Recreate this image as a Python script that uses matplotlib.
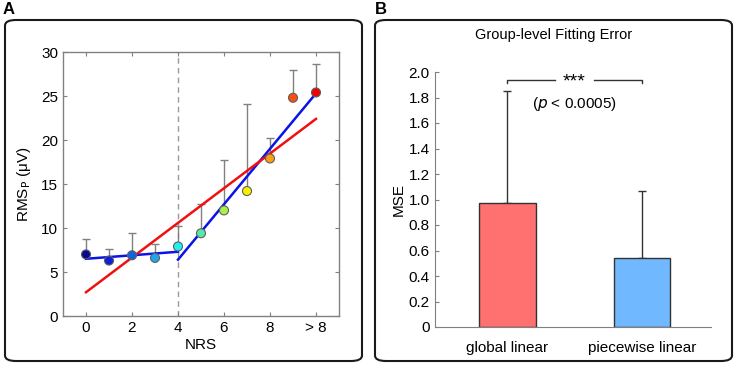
import matplotlib.pyplot as plt
from matplotlib.patches import FancyBboxPatch

# panel A data
nrs = [0, 1, 2, 3, 4, 5, 6, 7, 8, 9, 10]
rms_mean = [7.0, 6.3, 6.9, 6.6, 7.9, 9.4, 12.0, 14.2, 17.9, 24.8, 25.4]
rms_err = [1.8, 1.3, 2.5, 1.6, 2.3, 3.3, 5.7, 9.9, 2.3, 3.2, 3.2]
xtick_pos = [0, 2, 4, 6, 8, 10]
xtick_labels = ['0', '2', '4', '6', '8', '> 8']

# fitted lines (endpoints)
piece1_x = [0, 4]
piece1_y = [6.5, 7.3]
piece2_x = [4, 10]
piece2_y = [6.4, 25.3]
global_x = [0, 10]
global_y = [2.7, 22.4]

# panel B data
models = ['global linear', 'piecewise linear']
mse_mean = [0.97, 0.54]
mse_err = [0.88, 0.53]

dot_colors = ['#0a0a8c', '#0f1fd8', '#1064e0', '#22a6ea', '#22eef4', '#55e8a8',
              '#a8f04a', '#f8f000', '#f8a010', '#f85010', '#f00000']
gray = '#808080'

plt.rcParams['font.family'] = 'Liberation Sans'

fig = plt.figure(figsize=(7.37, 3.65), dpi=100)

# panel frames
for x0 in [5 / 737, 375 / 737]:
    box = FancyBboxPatch((x0, 4 / 365), 357 / 737, 341 / 365,
                         boxstyle='round,pad=0,rounding_size=0.015',
                         transform=fig.transFigure, fill=False,
                         edgecolor='#1a1a1a', linewidth=1.5)
    fig.patches.append(box)
fig.text(3 / 737, 1 - 10 / 365, 'A', fontsize=12, fontweight='bold', va='center')
fig.text(375 / 737, 1 - 10 / 365, 'B', fontsize=12, fontweight='bold', va='center')

# ---- panel A ----
ax = fig.add_axes([63 / 737, 1 - 316 / 365, 276 / 737, 264 / 365])
ax.axvline(4, color='#999999', linestyle='--', linewidth=1, dashes=(4, 3), zorder=1)
ax.errorbar(nrs, rms_mean, yerr=[[0] * len(rms_err), rms_err], fmt='none',
            ecolor=gray, elinewidth=1, capsize=3, capthick=1, zorder=2)
ax.plot(piece1_x, piece1_y, color='#0a14e6', linewidth=1.8, zorder=3)
ax.plot(piece2_x, piece2_y, color='#0a14e6', linewidth=1.8, zorder=3)
ax.plot(global_x, global_y, color='#f01010', linewidth=1.8, zorder=3)
ax.scatter(nrs, rms_mean, s=42, c=dot_colors, edgecolors='#606060',
           linewidths=0.8, zorder=4)
ax.set_xlim(-1, 11)
ax.set_ylim(0, 30)
ax.set_xticks(xtick_pos)
ax.set_xticklabels(xtick_labels)
ax.set_yticks(range(0, 31, 5))
ax.tick_params(direction='in', length=3, color=gray, labelsize=11,
               top=True, right=True, width=0.8)
for s in ax.spines.values():
    s.set_color(gray)
    s.set_linewidth(1)
ax.set_xlabel('NRS', fontsize=11, labelpad=2)
ax.set_ylabel('RMS$_\\mathrm{P}$ (\u03bcV)', fontsize=11, labelpad=6)

# ---- panel B ----
bx = fig.add_axes([434.7 / 737, 1 - 327 / 365, 276 / 737, 255 / 365])
xb = [0, 1]
bx.bar(xb, mse_mean, width=0.42, color=['#ff7070', '#70b8ff'],
       edgecolor='#333333', linewidth=1, zorder=2)
bx.errorbar(xb, mse_mean, yerr=[[0, 0], mse_err], fmt='none', ecolor='#333333',
            elinewidth=1, capsize=3, capthick=1, zorder=1)
bx.set_xlim(-0.54, 1.51)
bx.set_ylim(0, 2.0)
bx.set_yticks([0, 0.2, 0.4, 0.6, 0.8, 1.0, 1.2, 1.4, 1.6, 1.8, 2.0])
bx.set_yticklabels(['0', '0.2', '0.4', '0.6', '0.8', '1.0', '1.2', '1.4',
                    '1.6', '1.8', '2.0'])
bx.set_xticks(xb)
bx.set_xticklabels(models)
bx.tick_params(axis='y', direction='in', length=3, color=gray, labelsize=11)
bx.tick_params(axis='x', length=0, labelsize=11, pad=10)
bx.spines['top'].set_visible(False)
bx.spines['right'].set_visible(False)
for s in ['left', 'bottom']:
    bx.spines[s].set_color(gray)
bx.set_ylabel('MSE', fontsize=11, labelpad=2)

# significance bracket
bx.plot([0, 0, 0.35], [1.915, 1.94, 1.94], color='#333333', linewidth=1, clip_on=False)
bx.plot([0.64, 1, 1], [1.94, 1.94, 1.915], color='#333333', linewidth=1, clip_on=False)
bx.text(0.495, 1.92, '***', ha='center', va='center', fontsize=14)
bx.text(0.5, 1.75, r'($\it{p}$ < 0.0005)', ha='center', va='center', fontsize=11)
fig.text(554 / 737, 1 - 35 / 365, 'Group-level Fitting Error', ha='center',
         va='center', fontsize=10.5)

fig.savefig('out.png', dpi=100)
